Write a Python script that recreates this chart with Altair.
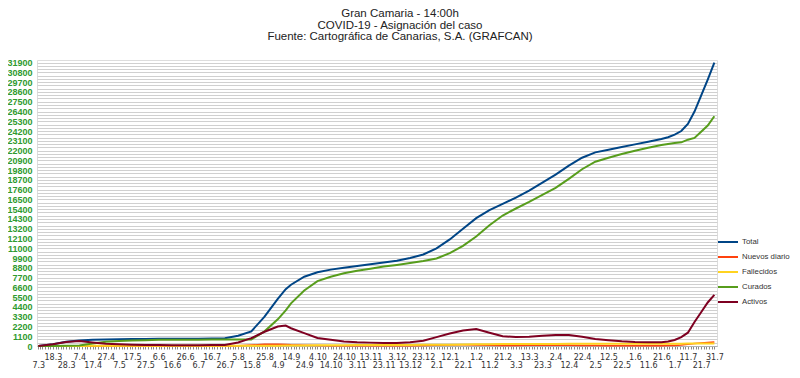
import altair as alt
import pandas as pd

dates = ["2020-03-07","2020-03-18","2020-03-28","2020-04-07","2020-04-17","2020-04-27","2020-05-07",
         "2020-05-17","2020-05-27","2020-06-06","2020-06-16","2020-06-26","2020-07-06","2020-07-16",
         "2020-07-26","2020-08-05","2020-08-15","2020-08-25","2020-09-04","2020-09-10","2020-09-14",
         "2020-09-24","2020-10-04","2020-10-14","2020-10-24","2020-11-03","2020-11-13","2020-11-23",
         "2020-12-03","2020-12-13","2020-12-23","2021-01-02","2021-01-12","2021-01-22","2021-02-01",
         "2021-02-11","2021-02-21","2021-03-03","2021-03-13","2021-03-23","2021-04-02","2021-04-12",
         "2021-04-22","2021-05-02","2021-05-12","2021-05-22","2021-06-01","2021-06-11","2021-06-21",
         "2021-06-26","2021-07-01","2021-07-06","2021-07-11","2021-07-16","2021-07-21","2021-07-26",
         "2021-07-31"]

total = [0, 200, 480, 620, 700, 740, 770, 790, 800, 810, 815, 820, 830, 850, 880, 1150, 1650, 3300,
         5300, 6400, 6900, 7800, 8300, 8600, 8800, 9000, 9200, 9400, 9600, 9900, 10300, 11000, 12000,
         13200, 14400, 15300, 16000, 16700, 17500, 18400, 19300, 20300, 21200, 21800, 22100, 22400,
         22700, 23000, 23300, 23500, 23800, 24200, 25000, 26400, 28200, 30000, 31900]

nuevos = [0, 15, 25, 15, 6, 3, 2, 1, 1, 1, 0, 1, 1, 3, 8, 40, 100, 190, 210, 170, 130, 80, 50, 35,
          25, 20, 20, 20, 25, 35, 55, 90, 120, 130, 110, 75, 60, 70, 80, 90, 95, 85, 65, 45, 35, 30,
          25, 25, 30, 45, 70, 120, 200, 280, 350, 400, 450]

fallecidos = [0, 2, 8, 14, 18, 20, 21, 22, 22, 22, 22, 22, 22, 22, 23, 24, 26, 30, 38, 45, 50, 62,
              72, 82, 92, 100, 106, 112, 118, 124, 130, 138, 150, 165, 185, 200, 212, 220, 226, 231,
              236, 240, 244, 248, 252, 255, 258, 260, 262, 263, 264, 266, 268, 271, 275, 280, 285]

curados = [0, 0, 20, 60, 280, 470, 550, 620, 660, 690, 700, 705, 715, 725, 735, 740, 745, 1650, 3000,
           4000, 4800, 6250, 7300, 7800, 8180, 8470, 8710, 8940, 9130, 9340, 9570, 9860, 10450, 11280,
           12320, 13600, 14690, 15480, 16220, 17020, 17810, 18810, 19900, 20750, 21200, 21610, 21990,
           22320, 22620, 22740, 22860, 22930, 23230, 23430, 24130, 24820, 25870]

activos = [0, 200, 450, 550, 400, 250, 200, 150, 120, 100, 90, 90, 90, 100, 120, 400, 880, 1600, 2200,
           2300, 2000, 1450, 900, 700, 520, 430, 380, 340, 350, 430, 600, 1000, 1400, 1750, 1900, 1500,
           1100, 1000, 1050, 1150, 1250, 1250, 1050, 800, 650, 530, 450, 420, 420, 500, 680, 1000,
           1500, 2700, 3800, 4900, 5750]

series_names = ["Total", "Nuevos diario", "Fallecidos", "Curados", "Activos"]
series_colors = ["#004586", "#ff420e", "#ffd320", "#579d1c", "#7e0021"]
series_widths = [2, 1.5, 2, 2, 2]

label_dates = ["2020-03-07","2020-03-18","2020-03-28","2020-04-07","2020-04-17","2020-04-27",
               "2020-05-07","2020-05-17","2020-05-27","2020-06-06","2020-06-16","2020-06-26",
               "2020-07-06","2020-07-16","2020-07-26","2020-08-05","2020-08-15","2020-08-25",
               "2020-09-04","2020-09-14","2020-09-24","2020-10-04","2020-10-14","2020-10-24",
               "2020-11-03","2020-11-13","2020-11-23","2020-12-03","2020-12-13","2020-12-23",
               "2021-01-02","2021-01-12","2021-01-22","2021-02-01","2021-02-11","2021-02-21",
               "2021-03-03","2021-03-13","2021-03-23","2021-04-02","2021-04-12","2021-04-22",
               "2021-05-02","2021-05-12","2021-05-22","2021-06-01","2021-06-11","2021-06-21",
               "2021-07-01","2021-07-11","2021-07-21","2021-07-31"]

y_major = list(range(0, 31901, 1100))

start = pd.Timestamp("2020-03-07")
day = [(pd.Timestamp(d) - start).days for d in dates]
label_days = [(pd.Timestamp(d) - start).days for d in label_dates]
upper_days = label_days[1::2]
x_ticks = [0] + list(range(1, label_days[-1] + 1, 2))
y_minor = [i * 1100 / 3 for i in range(0, 88)]

rows = []
for name, vals in zip(series_names, [total, nuevos, fallecidos, curados, activos]):
    for d, v in zip(day, vals):
        rows.append({"day": d, "value": v, "serie": name})
df = pd.DataFrame(rows)

lab_arr = "[" + ",".join(str(v) for v in label_days) + "]"
up_arr = "[" + ",".join(str(v) for v in upper_days) + "]"
maj_arr = "[" + ",".join(str(v) for v in y_major) + "]"

x_enc = alt.X(
    "day:Q",
    scale=alt.Scale(domain=[-1, 513], nice=False, zero=False),
    axis=alt.Axis(
        title=None,
        values=x_ticks,
        labelExpr=f"indexof({lab_arr}, datum.value) >= 0 ? timeFormat(datetime(2020, 2, 7 + datum.value), '%-d.%-m') : ''",
        labelOverlap=False,
        labelFlush=False,
        labelFont="DejaVu Sans",
        labelFontSize=8,
        labelColor="#333333",
        labelBaseline="top",
        labelPadding={"condition": {"test": f"indexof({up_arr}, datum.value) >= 0", "value": 4}, "value": 12},
        tickSize=3,
        tickColor="#8a8a8a",
        domainColor="#b0b0b0",
        grid=False,
    ),
)

y_enc = alt.Y(
    "value:Q",
    scale=alt.Scale(domain=[0, 32200], nice=False),
    axis=alt.Axis(
        title=None,
        values=y_minor,
        labelExpr=f"indexof({maj_arr}, datum.value) >= 0 ? format(datum.value, 'd') : ''",
        labelOverlap=False,
        labelFont="Liberation Sans",
        labelFontSize=9,
        labelFontWeight="bold",
        labelColor="#2f9a2f",
        labelPadding=5,
        tickSize=0,
        domain=False,
        grid=True,
        gridColor="#d0d0d0",
        gridWidth=1,
    ),
)

color_enc = alt.Color(
    "serie:N",
    scale=alt.Scale(domain=series_names, range=series_colors),
    legend=alt.Legend(
        title=None,
        orient="none",
        legendX=680,
        legendY=171,
        symbolType="stroke",
        symbolStrokeWidth=2,
        symbolSize=400,
        labelFont="Liberation Sans",
        labelFontSize=7.8,
        labelColor="#333333",
        labelLimit=200,
        labelOffset=3,
        rowPadding=-9,
    ),
)

layers = []
for name, w in zip(series_names, series_widths):
    layers.append(
        alt.Chart(df)
        .transform_filter(alt.datum.serie == name)
        .mark_line(strokeWidth=w)
        .encode(x=x_enc, y=y_enc, color=color_enc)
    )

chart = (
    alt.layer(*layers)
    .properties(
        width=680,
        height=286,
        padding={"left": 29, "top": 52, "right": 75, "bottom": 24},
        autosize="none",
        title=alt.TitleParams(
            text=["Gran Camaria - 14:00h", "COVID-19 - Asignación del caso",
                  "Fuente: Cartográfica de Canarias, S.A. (GRAFCAN)"],
            font="Liberation Sans",
            fontSize=11.5,
            fontWeight="normal",
            color="#222222",
            lineHeight=11.5,
            anchor="middle",
            dx=23,
            offset=16,
        ),
    )
    .configure_view(fill="#bdbdbd", stroke=None)
    .configure(background="white")
)

chart.save("out.html", embed_options={"renderer": "svg", "actions": False})
